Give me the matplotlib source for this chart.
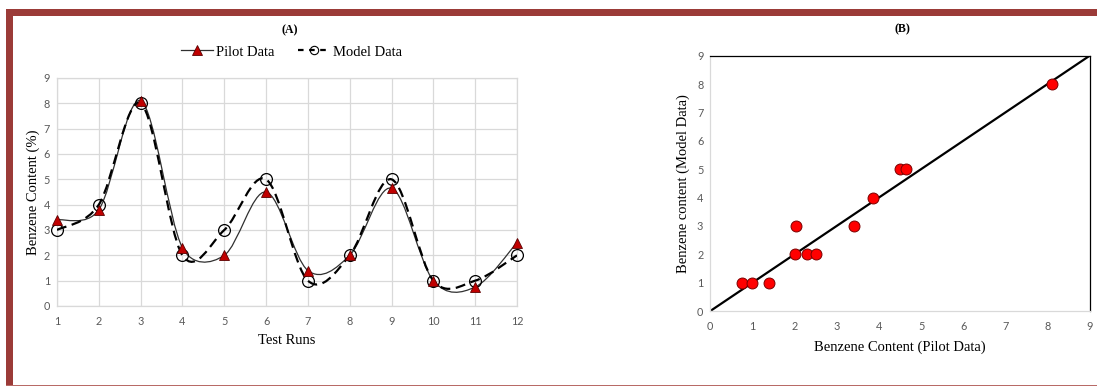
import numpy as np
import matplotlib
matplotlib.use("Agg")
import matplotlib.pyplot as plt
from matplotlib.path import Path
from matplotlib.patches import PathPatch, Rectangle
from matplotlib.lines import Line2D

# ---------------- data ----------------
test_runs = [1, 2, 3, 4, 5, 6, 7, 8, 9, 10, 11, 12]
pilot_data = [3.4, 3.8, 8.1, 2.3, 2.0, 4.5, 1.4, 2.0, 4.65, 1.0, 0.75, 2.5]
model_data = [3, 4, 8, 2, 3, 5, 1, 2, 5, 1, 1, 2]
scatter_pilot = [0.75, 1.0, 1.4, 2.0, 2.03, 2.3, 2.5, 3.4, 3.85, 4.5, 4.65, 8.1]
scatter_model = [1, 1, 1, 2, 3, 2, 2, 3, 4, 5, 5, 8]
parity_line = [0, 9]
ticks_a_x = list(range(1, 13))
ticks_09 = list(range(0, 10))

W, H = 1097, 387
fig = plt.figure(figsize=(W / 100, H / 100), dpi=100)
fig.patch.set_facecolor("white")

SERIF = "Liberation Serif"
TICKF = "Lato"
TICKC = "#595959"
GRID = "#D9D9D9"
FRAME = "#9B3B38"


def excel_smooth(ax, xs, ys, **kw):
    """Excel-like smoothed line drawn as cubic Bezier path."""
    pts = ax.transData.transform(np.column_stack([xs, ys]))
    n = len(pts)
    verts = [pts[0]]
    codes = [Path.MOVETO]
    for i in range(n - 1):
        p0 = pts[i - 1] if i > 0 else pts[i]
        p1 = pts[i]
        p2 = pts[i + 1]
        p3 = pts[i + 2] if i + 2 < n else pts[i + 1]
        d02 = np.hypot(*(p2 - p0))
        d12 = np.hypot(*(p2 - p1))
        d13 = np.hypot(*(p3 - p1))
        f1 = 1 / 6 if d02 / 6 < d12 / 2 else d12 / (2 * d02)
        f2 = 1 / 6 if d13 / 6 < d12 / 2 else d12 / (2 * d13)
        b1 = p1 + (p2 - p0) * f1
        b2 = p2 - (p3 - p1) * f2
        verts += [b1, b2, p2]
        codes += [Path.CURVE4] * 3
    verts = ax.transData.inverted().transform(np.array(verts))
    patch = PathPatch(Path(verts, codes), facecolor="none", **kw)
    ax.add_patch(patch)
    return patch


def style_ticks(ax):
    ax.tick_params(length=0, labelsize=7.8, labelcolor=TICKC)
    ax.tick_params(axis="x", pad=7)
    ax.tick_params(axis="y", pad=5)
    for lab in ax.get_xticklabels() + ax.get_yticklabels():
        lab.set_fontfamily(TICKF)


# ---------------- panel A ----------------
axA = fig.add_axes([57 / W, 1 - 306 / H, 460 / W, 228 / H])
axA.set_xlim(1, 12)
axA.set_ylim(0, 9)
axA.set_xticks(ticks_a_x)
axA.set_yticks(ticks_09)
axA.grid(True, color=GRID, lw=0.9)
axA.set_axisbelow(True)
for s in axA.spines.values():
    s.set_color(GRID)
    s.set_linewidth(0.9)
style_ticks(axA)
axA.set_xlabel("Test Runs", fontfamily=SERIF, fontsize=10.5, labelpad=5)
axA.set_ylabel("Benzene Content (%)", fontfamily=SERIF, fontsize=10.5, labelpad=3)

excel_smooth(axA, test_runs, pilot_data, edgecolor="#303030", lw=0.9, zorder=3)
excel_smooth(axA, test_runs, model_data, edgecolor="black", lw=1.6,
             linestyle=(0, (4.5, 2.5)), zorder=3)
axA.plot(test_runs, model_data, linestyle="none", marker="o", ms=8.5,
         mfc="none", mec="black", mew=0.9, zorder=4, clip_on=False)
axA.plot(test_runs, pilot_data, linestyle="none", marker="^", ms=7.5,
         mfc="#C00000", mec="#5A0000", mew=0.6, zorder=5, clip_on=False)

h1 = Line2D([], [], color="#303030", lw=0.9, marker="^", ms=7,
            mfc="#C00000", mec="#5A0000", mew=0.6)
h2 = Line2D([], [], color="black", lw=1.6, linestyle=(0, (2.5, 2.5)),
            marker="o", ms=6, mfc="none", mec="black", mew=0.8)
leg = axA.legend([h1, h2], ["Pilot Data", "Model Data"], ncol=2, frameon=False,
                 loc="center", bbox_to_anchor=(0.51, 1 + (78 - 52) / 228),
                 prop={"family": SERIF, "size": 10.5}, handlelength=2.2,
                 handletextpad=0.2, columnspacing=1.6, borderaxespad=0)
fig.text(290 / W, 1 - 30 / H, "(A)", ha="center", va="center",
         fontfamily=SERIF, fontweight="bold", fontsize=8.5)

# ---------------- panel B ----------------
axB = fig.add_axes([710.3 / W, 1 - 311 / H, 379.4 / W, 255.3 / H])
axB.set_xlim(0, 9)
axB.set_ylim(0, 9)
axB.set_xticks(ticks_09)
axB.set_yticks(ticks_09)
axB.spines["left"].set_color(GRID)
axB.spines["bottom"].set_color(GRID)
axB.spines["top"].set_color("black")
axB.spines["right"].set_color("black")
for s in axB.spines.values():
    s.set_linewidth(0.9)
style_ticks(axB)
axB.plot(parity_line, parity_line, color="black", lw=1.6, zorder=2)
axB.scatter(scatter_pilot, scatter_model, s=62, c="#FF0000",
            edgecolors="#7A0000", linewidths=0.7, zorder=3)
axB.set_xlabel("Benzene Content (Pilot Data)", fontfamily=SERIF, fontsize=10.5, labelpad=6)
axB.set_ylabel("Benzene content (Model Data)", fontfamily=SERIF, fontsize=10.5, labelpad=5)
fig.text(902 / W, 1 - 29 / H, "(B)", ha="center", va="center",
         fontfamily=SERIF, fontweight="bold", fontsize=8.5)

# ---------------- frame ----------------
def px_rect(x0, y0, x1, y1, color):
    fig.patches.append(Rectangle((x0 / W, 1 - y1 / H), (x1 - x0) / W, (y1 - y0) / H,
                                 transform=fig.transFigure, facecolor=color,
                                 edgecolor="none", zorder=10))

px_rect(6, 9.5, W, 15.5, FRAME)      # top bar
px_rect(6, 9.5, 12.5, 385.5, FRAME)  # left bar
px_rect(6, 384.5, W, 386, "#B86A66")  # bottom thin line

fig.savefig("out.png", dpi=100, facecolor="white")
